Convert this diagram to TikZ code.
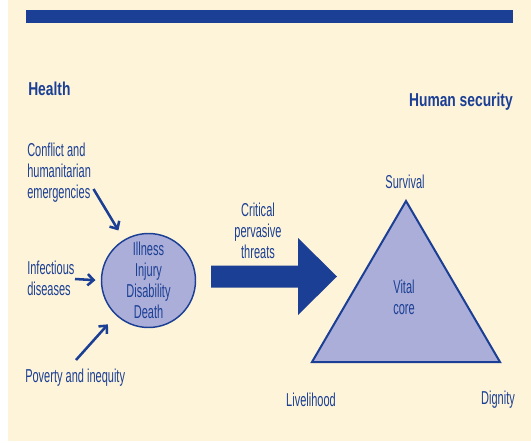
\documentclass[tikz,border=0pt]{standalone}
\usepackage{fontspec}
\setmainfont[FakeStretch=0.59,BoldFeatures={FakeStretch=0.74}]{Liberation Sans}
\usetikzlibrary{arrows.meta}
\definecolor{hsblue}{RGB}{27,63,148}
\definecolor{hscream}{RGB}{254,244,218}
\definecolor{hslilac}{RGB}{171,174,216}
\tikzset{>={Straight Barb[length=4.5pt,width=8.5pt]}}
\tikzset{lab/.style={text=hsblue,inner sep=0pt,font=\fontsize{14}{15.75}\selectfont},
  head/.style={lab,font=\fontsize{14}{15.75}\selectfont\bfseries},
  cause/.style={->,draw=hsblue,line width=1.9pt}}

\begin{document}
\begin{tikzpicture}[x=0.75pt,y=-0.75pt]
            \fill[hscream] (8,0) rectangle (531,441);
            \useasboundingbox (0,0) rectangle (531,442);
            \fill[hsblue] (26,10) rectangle (513,23.5);
            \node[head,anchor=west] (health) at (28,88.6) {Health};
            \node[head,anchor=east] (hsec) at (513,102) {Human security};
            \node[lab,anchor=west,align=left] (conflict) at (27,173) {Conflict and\\humanitarian\\emergencies};
            \node[lab,anchor=west,align=left] (infect) at (27,278.5) {Infectious\\diseases};
            \node[lab,anchor=west] (poverty) at (25,378) {Poverty and inequity};
            \node[lab,circle,draw=hsblue,line width=1.1pt,fill=hslilac,minimum size=70.5pt,align=center] (harm) at (148.5,280.5) {Illness\\Injury\\Disability\\Death};
            \coordinate (cstart) at (93.5,189){};
            \coordinate (istart) at (75,279){};
            \coordinate (pstart) at (76,360){};
            \draw[cause,shorten >=8pt] (cstart) -- (harm.121);
            \draw[cause,shorten >=4pt] (istart) -- (harm.west);
            \draw[cause,shorten >=9pt] (pstart) -- (harm.227);
            \node[lab,align=center] (critical) at (258,231) {Critical\\pervasive\\threats};
            \fill[hsblue] (211,265.5) -- (298,265.5) -- (298,238) -- (337,276.5) -- (298,315) -- (298,287.5) -- (211,287.5) -- cycle;
            \coordinate (top) at (406,201){};
            \coordinate (left) at (312,362){};
            \coordinate (right) at (500,362){};
            \filldraw[fill=hslilac,draw=hsblue,line width=1.5pt,line join=miter] (top) -- (left) -- (right) -- cycle;
            \node[lab,align=center] (vital) at (404,297.5) {Vital\\core};
            \node[lab] (survival) at (405,182) {Survival};
            \node[lab] (livelihood) at (311,400) {Livelihood};
            \node[lab] (dignity) at (498,400) {Dignity};
        \end{tikzpicture}
\end{document}
